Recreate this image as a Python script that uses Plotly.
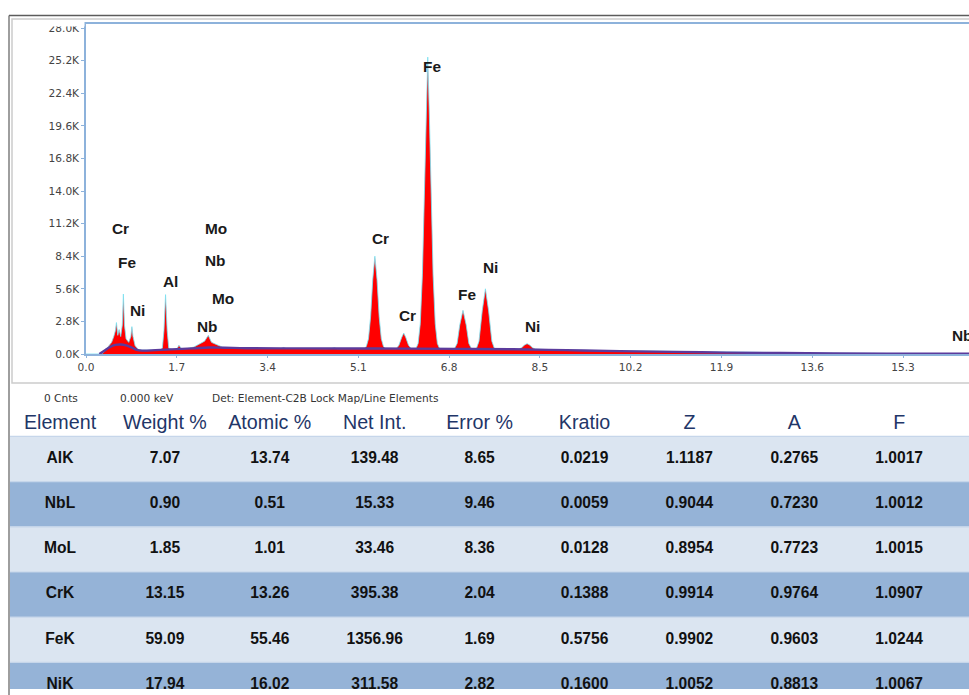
import plotly.graph_objects as go

W, H = 969, 695

# ---------------- EDS spectrum (energy in keV, counts) ----------------
energy_kev = [
    0.00, 0.25, 0.32, 0.38, 0.44, 0.48, 0.52, 0.55, 0.57, 0.595, 0.62, 0.65, 0.68,
    0.70, 0.72, 0.75, 0.80, 0.84, 0.86, 0.88, 0.92, 0.98, 1.05, 1.20, 1.38, 1.43,
    1.46, 1.49, 1.52, 1.55, 1.62, 1.70, 1.74, 1.79, 1.90, 2.02, 2.10, 2.17, 2.22,
    2.29, 2.35, 2.45, 2.55, 2.65, 2.80,
    3.00, 3.50, 3.65, 3.70, 3.75, 4.50, 4.60, 4.65, 4.70, 5.00,
    5.21, 5.25, 5.29, 5.33, 5.37, 5.41, 5.45, 5.49, 5.53, 5.57, 5.61,
    5.81, 5.86, 5.91, 5.95, 5.99, 6.04, 6.09,
    6.18, 6.22, 6.26, 6.30, 6.34, 6.37, 6.40, 6.43, 6.46, 6.50, 6.54, 6.58, 6.62,
    6.90, 6.95, 7.00, 7.06, 7.12, 7.17, 7.22,
    7.31, 7.36, 7.42, 7.48, 7.54, 7.60, 7.65,
    8.10, 8.16, 8.21, 8.26, 8.31, 8.36, 8.42,
    9.00, 10.00, 11.00, 12.00, 13.00, 14.00, 15.00, 16.00, 16.60,
]
counts = [
    0, 0, 80, 400, 800, 1000, 1500, 2000, 2700, 1600, 2100, 1500, 2500,
    5150, 2500, 1300, 1000, 1500, 2350, 1500, 700, 400, 330, 320, 340, 500,
    2000, 5100, 2000, 500, 400, 420, 750, 450, 470, 600, 800, 950, 1100,
    1600, 1000, 800, 600, 500, 480,
    470, 470, 480, 560, 470, 460, 470, 540, 460, 460,
    470, 650, 1300, 3200, 6400, 8400, 6400, 3200, 1300, 650, 470,
    460, 750, 1400, 1800, 1400, 750, 470,
    480, 900, 2600, 6800, 13500, 20500, 25500, 20500, 13500, 6800, 2600, 900, 480,
    460, 900, 2500, 3750, 2500, 900, 460,
    450, 1100, 3700, 5600, 3700, 1100, 450,
    420, 540, 770, 890, 770, 540, 410,
    330, 270, 210, 150, 100, 70, 50, 40, 35,
]

# fitted background under the spectrum
bkg_energy_kev = [0.25, 0.35, 0.45, 0.55, 0.65, 0.75, 0.85, 0.95, 1.05, 1.30, 1.60,
                  2.00, 2.30, 2.60, 3.00, 4.00, 5.00, 6.00, 7.00, 8.00, 9.00, 10.0,
                  11.0, 12.0, 13.0, 14.0, 15.0, 16.0, 16.6]
bkg_counts = [0, 300, 600, 780, 820, 740, 560, 360, 290, 330, 400,
              480, 560, 540, 500, 480, 470, 460, 440, 410, 330, 250,
              180, 120, 80, 50, 30, 20, 15]

# element line labels and their anchor points (keV, counts)
peak_labels = ["Cr", "Fe", "Ni", "Al", "Mo", "Nb", "Mo", "Nb",
               "Cr", "Cr", "Fe", "Fe", "Ni", "Ni", "Nb"]
label_kev = [0.64, 0.77, 0.955, 1.59, 2.43, 2.43, 2.57, 2.28,
             5.51, 6.03, 6.48, 7.13, 7.58, 8.37, 16.42]
label_counts = [10750, 7900, 3750, 6250, 10800, 8050, 4800, 2400,
                9950, 3350, 24700, 5150, 7400, 2400, 1550]

x_ticks = [0.0, 1.7, 3.4, 5.1, 6.8, 8.5, 10.2, 11.9, 13.6, 15.3]
y_ticks = [0, 2800, 5600, 8400, 11200, 14000, 16800, 19600, 22400, 25200, 28000]

status_texts = ["0 Cnts", "0.000 keV", "Det: Element-C2B Lock Map/Line Elements"]

# ---------------- quantification table ----------------
columns = ["Element", "Weight %", "Atomic %", "Net Int.", "Error %",
           "Kratio", "Z", "A", "F"]
elements = ["AlK", "NbL", "MoL", "CrK", "FeK", "NiK"]
weight_pct = [7.07, 0.90, 1.85, 13.15, 59.09, 17.94]
atomic_pct = [13.74, 0.51, 1.01, 13.26, 55.46, 16.02]
net_int = [139.48, 15.33, 33.46, 395.38, 1356.96, 311.58]
error_pct = [8.65, 9.46, 8.36, 2.04, 1.69, 2.82]
kratio = [0.0219, 0.0059, 0.0128, 0.1388, 0.5756, 0.1600]
z_corr = [1.1187, 0.9044, 0.8954, 0.9914, 0.9902, 1.0052]
a_corr = [0.2765, 0.7230, 0.7723, 0.9764, 0.9603, 0.8813]
f_corr = [1.0017, 1.0012, 1.0015, 1.0907, 1.0244, 1.0067]

# The page shows the figure inset by OFF_X on the left and slightly
# shrunk, so screen pixels are mapped back to figure pixels here.
OFF_X = 8.0
SX = W / (W - OFF_X)
SY = H / (H - 8.0)


def fx(x):
    """screen x pixel -> figure x pixel"""
    return (x - OFF_X) * SX


def fy(y):
    """screen y pixel -> figure y pixel"""
    return y * SY


def px(x):
    return fx(x) / W


def py(y):
    return 1 - fy(y) / H


AXIS_BLUE = "#8db2db"
TICK_FONT = dict(family="DejaVu Sans", size=10.6, color="#444444")

fig = go.Figure()

# spectrum: red filled counts with a light cyan outline
fig.add_trace(go.Scatter(
    x=energy_kev, y=counts, mode="lines",
    line=dict(color="rgba(120,226,242,0.8)", width=1.0),
    fill="tozeroy", fillcolor="#ff0000",
    hoverinfo="skip", showlegend=False, xaxis="x", yaxis="y",
))
# background fit
fig.add_trace(go.Scatter(
    x=bkg_energy_kev, y=bkg_counts, mode="lines",
    line=dict(color="#5b3b9c", width=2.4, shape="spline"),
    hoverinfo="skip", showlegend=False, xaxis="x", yaxis="y",
))

# ---- table text through its own (hidden) axes ----
fmt_cols = [
    [str(e) for e in elements],
    [f"{v:.2f}" for v in weight_pct],
    [f"{v:.2f}" for v in atomic_pct],
    [f"{v:.2f}" for v in net_int],
    [f"{v:.2f}" for v in error_pct],
    [f"{v:.4f}" for v in kratio],
    [f"{v:.4f}" for v in z_corr],
    [f"{v:.4f}" for v in a_corr],
    [f"{v:.4f}" for v in f_corr],
]
cell_x, cell_y, cell_text = [], [], []
for ci, col in enumerate(fmt_cols):
    for ri, txt in enumerate(col):
        cell_x.append(ci)
        cell_y.append(ri)
        cell_text.append(txt)

HEADER_ROW = -0.775
fig.add_trace(go.Scatter(
    x=list(range(len(columns))), y=[HEADER_ROW] * len(columns),
    mode="text", text=columns, textposition="middle center",
    textfont=dict(family="Liberation Sans", size=19.7, color="#1f3668"),
    hoverinfo="skip", showlegend=False, xaxis="x2", yaxis="y2", cliponaxis=False,
))
fig.add_trace(go.Scatter(
    x=cell_x, y=cell_y, mode="text", text=cell_text, textposition="middle center",
    textfont=dict(family="Liberation Sans", size=15.6, color="#111111", weight="bold"),
    hoverinfo="skip", showlegend=False, xaxis="x2", yaxis="y2", cliponaxis=False,
))

shapes = []
# window frame
shapes.append(dict(type="rect", xref="paper", yref="paper",
                   x0=px(12), x1=px(985), y0=py(381), y1=py(17),
                   line=dict(color="#cccccc", width=1.5), fillcolor="white",
                   layer="below"))
shapes.append(dict(type="line", xref="paper", yref="paper",
                   x0=px(9), x1=px(985), y0=py(13.5), y1=py(13.5),
                   line=dict(color="#5c5c5c", width=1.6), layer="above"))
shapes.append(dict(type="line", xref="paper", yref="paper",
                   x0=px(9), x1=px(9), y0=py(13.5), y1=py(720),
                   line=dict(color="#6a6a6a", width=1.3), layer="above"))
# the frame edge hides the upper half of the topmost tick label
shapes.append(dict(type="rect", xref="paper", yref="paper",
                   x0=px(40), x1=px(84.5), y0=py(24.5), y1=py(18.5),
                   line=dict(width=0), fillcolor="white", layer="above"))

# table row bands
for ri in range(len(elements)):
    shapes.append(dict(type="rect", xref="paper", yref="y2",
                       x0=px(10), x1=px(985), y0=ri - 0.5, y1=ri + 0.5,
                       fillcolor="#dbe5f1" if ri % 2 == 0 else "#95b3d7",
                       line=dict(width=0), layer="below"))
    shapes.append(dict(type="line", xref="paper", yref="y2",
                       x0=px(10), x1=px(985), y0=ri - 0.5, y1=ri - 0.5,
                       line=dict(color="#c6d6ea", width=1.2), layer="below"))

annotations = []
for txt, xk, yc in zip(peak_labels, label_kev, label_counts):
    annotations.append(dict(
        x=xk, y=yc, xref="x", yref="y", text=txt, showarrow=False,
        font=dict(family="Liberation Sans", size=15.4, color="#1a1a1a", weight="bold"),
        xanchor="center", yanchor="middle",
    ))

status_pos = [(61, "center"), (147, "center"), (210, "left")]
for txt, (xp, anchor) in zip(status_texts, status_pos):
    annotations.append(dict(
        x=px(xp), y=py(396), xref="paper", yref="paper", text=txt,
        showarrow=False, xanchor=anchor, yanchor="middle",
        font=dict(family="DejaVu Sans", size=10.6, color="#333333"),
    ))

# spectrum axes geometry (screen pixels: 0 keV at 86, 15.3 keV at 903)
a0, a1 = fx(86), fx(903)
x_max = (W - a0) * 15.3 / (a1 - a0)
y_max = 28000 * (352 - 22) / (352 - 26)

# table axes geometry (column centres every 104.9 px from 60, rows every 45.2 px from 457)
tbl_left, tbl_top = 10, 408
step_x = fx(60 + 104.9) - fx(60)
x2_lo = -(fx(60) - fx(tbl_left)) / step_x
x2_hi = x2_lo + (W - fx(tbl_left)) / step_x
step_y = fy(457 + 45.2) - fy(457)
y2_top = (fy(tbl_top) - fy(457)) / step_y
y2_bot = (H - fy(457)) / step_y

fig.update_layout(
    width=W, height=H,
    margin=dict(l=0, r=0, t=0, b=0),
    paper_bgcolor="white", plot_bgcolor="rgba(0,0,0,0)",
    showlegend=False,
    xaxis=dict(
        domain=[px(86), 1], range=[0, x_max], anchor="y",
        tickvals=x_ticks, ticktext=[f"{v:.1f}" for v in x_ticks],
        showline=True, linecolor=AXIS_BLUE, linewidth=1.6, mirror=True,
        ticks="outside", ticklen=2, tickcolor=AXIS_BLUE, tickwidth=1,
        showgrid=False, zeroline=False, tickfont=TICK_FONT, fixedrange=True,
    ),
    yaxis=dict(
        domain=[py(352), py(22)], range=[0, y_max], anchor="x",
        tickvals=y_ticks, ticktext=[f"{v / 1000:.1f}K" for v in y_ticks],
        showline=True, linecolor=AXIS_BLUE, linewidth=1.6,
        ticks="outside", ticklen=3, tickcolor=AXIS_BLUE, tickwidth=1,
        showgrid=False, zeroline=False, tickfont=TICK_FONT, fixedrange=True,
    ),
    xaxis2=dict(domain=[px(tbl_left), 1], range=[x2_lo, x2_hi], anchor="y2",
                visible=False, fixedrange=True),
    yaxis2=dict(domain=[0, py(tbl_top)], range=[y2_bot, y2_top], anchor="x2",
                visible=False, fixedrange=True),
    shapes=shapes,
    annotations=annotations,
)

fig.write_html("out.html", config={"displayModeBar": False})
